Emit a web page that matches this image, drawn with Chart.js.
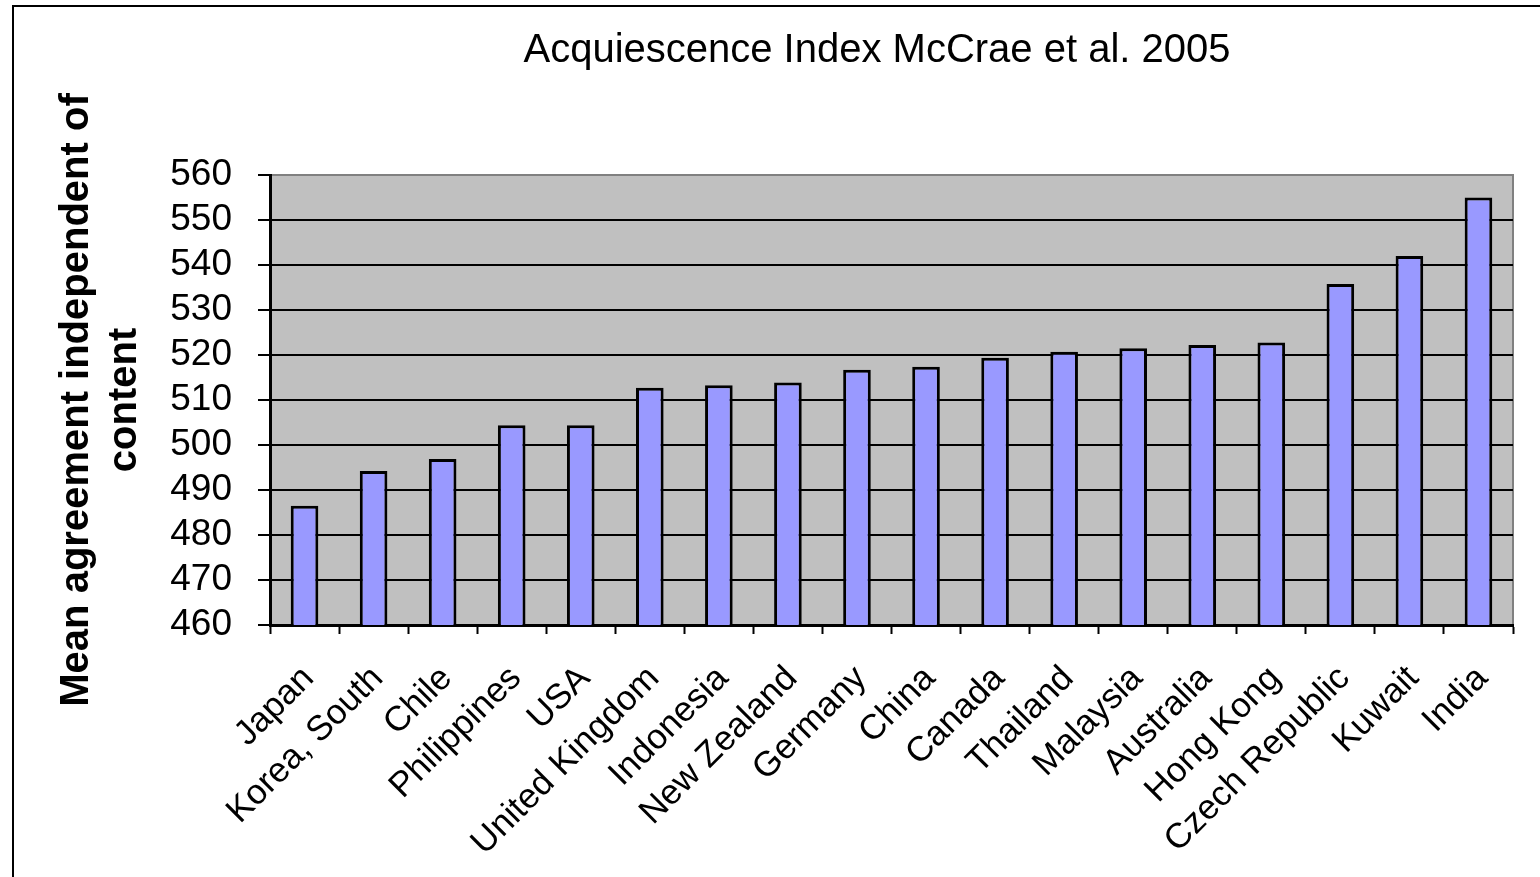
<!DOCTYPE html>
<html>
<head>
<meta charset="utf-8">
<title>Acquiescence Index McCrae et al. 2005</title>
<script src="https://cdn.jsdelivr.net/npm/chart.js@4/dist/chart.umd.min.js"></script>
<style>
  html, body { margin: 0; padding: 0; background: #ffffff; overflow: hidden; }
  #wrap { position: relative; width: 1540px; height: 877px; }
  #frame { position: absolute; left: 12px; top: 5px; width: 1600px; height: 1000px; border: 2px solid #000; box-sizing: border-box; pointer-events: none; }
  canvas { position: absolute; left: 0; top: 0; }
</style>
</head>
<body>
<div id="wrap">
  <canvas id="chart" width="1540" height="877"></canvas>
  <div id="frame"></div>
</div>
<script>
// Countries, sorted by mean agreement
const countries = [
  'Japan', 'Korea, South', 'Chile', 'Philippines', 'USA', 'United Kingdom',
  'Indonesia', 'New Zealand', 'Germany', 'China', 'Canada', 'Thailand',
  'Malaysia', 'Australia', 'Hong Kong', 'Czech Republic', 'Kuwait', 'India'
];

// Mean agreement independent of content
const acquiescence = [
  486.5, 494.2, 496.9, 504.4, 504.4, 512.7,
  513.3, 513.9, 516.7, 517.4, 519.4, 520.7,
  521.5, 522.2, 522.8, 535.8, 542.0, 555.0
];

const yMin = 460;
const yMax = 560;
const yStep = 10;

const chartTitle = 'Acquiescence Index McCrae et al. 2005';
const yAxisTitle = ['Mean agreement independent of', 'content'];

const FONT = "'Liberation Sans', Arial, Helvetica, sans-serif";

// Grey plot background with a thin grey frame on the top and right
const plotBackground = {
  id: 'plotBackground',
  beforeDraw(chart) {
    const { ctx, chartArea: a } = chart;
    ctx.save();
    ctx.fillStyle = '#C0C0C0';
    ctx.fillRect(a.left, a.top, a.right - a.left, a.bottom - a.top);
    ctx.strokeStyle = '#808080';
    ctx.lineWidth = 2;
    ctx.beginPath();
    ctx.moveTo(a.left, a.top);
    ctx.lineTo(a.right, a.top);
    ctx.lineTo(a.right, a.bottom);
    ctx.stroke();
    ctx.restore();
  }
};

// Chart heading, centred over the plot
const heading = {
  id: 'heading',
  afterDraw(chart) {
    const { ctx } = chart;
    ctx.save();
    ctx.font = '40px ' + FONT;
    ctx.fillStyle = '#000';
    ctx.textAlign = 'center';
    ctx.textBaseline = 'alphabetic';
    ctx.fillText(chartTitle, 877, 62);
    ctx.restore();
  }
};

new Chart(document.getElementById('chart'), {
  type: 'bar',
  data: {
    labels: countries,
    datasets: [{
      data: acquiescence,
      backgroundColor: '#9999FF',
      borderColor: '#000000',
      borderWidth: 3,
      borderSkipped: 'bottom',
      barPercentage: 0.4,
      categoryPercentage: 1.0
    }]
  },
  options: {
    responsive: false,
    animation: false,
    devicePixelRatio: 1,
    layout: { padding: { left: 0, top: 175, right: 27, bottom: 0 } },
    plugins: {
      legend: { display: false },
      title: { display: false },
      tooltip: { enabled: false }
    },
    scales: {
      x: {
        offset: true,
        afterFit(scale) { scale.height = 252; },
        grid: {
          offset: true,
          drawOnChartArea: false,
          drawTicks: true,
          tickLength: 9,
          tickWidth: 2,
          tickColor: '#000'
        },
        border: { color: '#000', width: 3 },
        ticks: {
          autoSkip: false,
          minRotation: 45,
          maxRotation: 45,
          padding: 24,
          labelOffset: 4,
          color: '#000',
          font: { family: FONT, size: 35 }
        }
      },
      y: {
        min: yMin,
        max: yMax,
        afterFit(scale) { scale.width = 270; },
        grid: {
          color: (c) => (c.tick && c.tick.value === yMax ? 'rgba(0,0,0,0)' : '#000'),
          lineWidth: 2,
          drawTicks: true,
          tickLength: 12,
          tickWidth: 2,
          tickColor: '#000'
        },
        border: { color: '#000', width: 3 },
        ticks: {
          autoSkip: false,
          stepSize: yStep,
          padding: 26,
          color: '#000',
          font: { family: FONT, size: 37, lineHeight: 1.0 }
        },
        title: {
          display: true,
          text: yAxisTitle,
          color: '#000',
          padding: { top: 53, bottom: 0 },
          font: { family: FONT, size: 40, weight: 'bold', lineHeight: 1.2 }
        }
      }
    }
  },
  plugins: [plotBackground, heading]
});
</script>
</body>
</html>
